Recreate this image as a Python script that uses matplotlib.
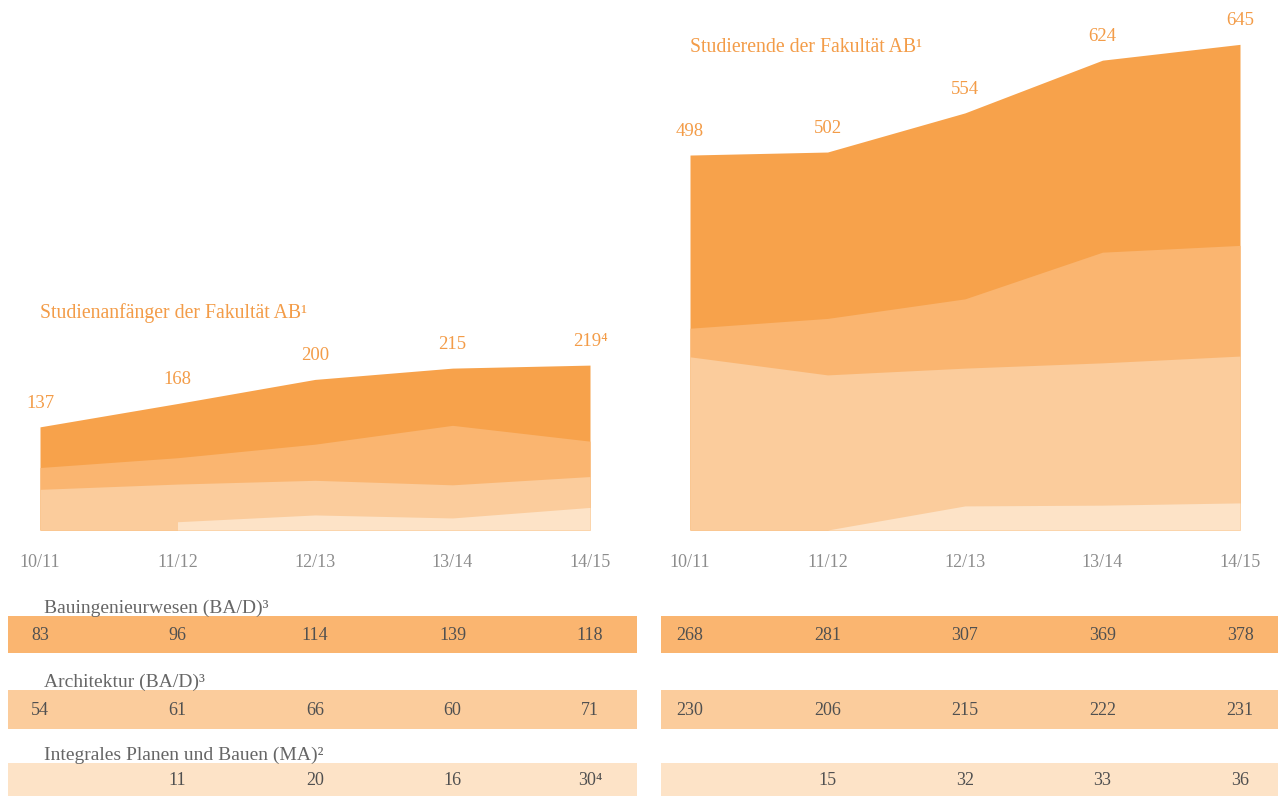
import numpy as np
import matplotlib
matplotlib.use("Agg")
import matplotlib.pyplot as plt
from matplotlib.transforms import blended_transform_factory
from matplotlib.patches import Rectangle

plt.rcParams['font.family'] = ['Liberation Serif', 'DejaVu Serif']

# daten
semester = ['10/11', '11/12', '12/13', '13/14', '14/15']
anf_total = [137, 168, 200, 215, 219]
anf_bau = [83, 96, 114, 139, 118]
anf_arch = [54, 61, 66, 60, 71]
anf_ipb = [None, 11, 20, 16, 30]
anf_total_lbl = ['137', '168', '200', '215', '219⁴']
anf_ipb_lbl = ['', '11', '20', '16', '30⁴']

stud_total = [498, 502, 554, 624, 645]
stud_bau = [268, 281, 307, 369, 378]
stud_arch = [230, 206, 215, 222, 231]
stud_ipb = [None, 15, 32, 33, 36]
stud_ipb_area = [None, 0, 32, 33, 36]   # so wie in der grafik gezeichnet

row_names = ['Bauingenieurwesen (BA/D)³', 'Architektur (BA/D)³', 'Integrales Planen und Bauen (MA)²']

c_dark = '#f7a24b'
c_bau = '#fab570'
c_arch = '#fbcc9c'
c_ipb = '#fde3c7'
c_title = '#f39c48'

W, H = 1278, 796
fig = plt.figure(figsize=(W / 100, H / 100), dpi=100)

def fy(px):
    return 1 - px / H

def make_ax(x0, total, bau, arch, ipb, total_lbl, title, title_y):
    ax = fig.add_axes([x0 / W, fy(530), 550 / W, 512 / H])
    x = np.arange(len(semester))
    f = lambda v: np.array([np.nan if a is None else a for a in v], dtype=float)
    ax.fill_between(x, 0, f(total), color=c_dark, lw=0)
    ax.fill_between(x, 0, f(bau), color=c_bau, lw=0)
    ax.fill_between(x, 0, f(arch), color=c_arch, lw=0)
    ax.fill_between(x, 0, f(ipb), color=c_ipb, lw=0)
    for xi, v, s in zip(x, total, total_lbl):
        ax.annotate(s, (xi, v), xytext=(0, 17), textcoords='offset points',
                    ha='center', va='center', color=c_title, fontsize=13.5)
    ax.set_xlim(0, 4)
    ax.set_ylim(0, 680)
    ax.set_xticks(x)
    ax.set_xticklabels(semester, color='#8c8c8c', fontsize=13)
    ax.tick_params(axis='x', length=0, pad=17)
    ax.set_yticks([])
    for s in ax.spines.values():
        s.set_visible(False)
    ax.patch.set_alpha(0)
    fig.text(x0 / W, fy(title_y), title, color=c_title, fontsize=14.2, va='center')
    return ax

ax1 = make_ax(40, anf_total, anf_bau, anf_arch, anf_ipb, anf_total_lbl,
              'Studienanfänger der Fakultät AB¹', 313)
ax2 = make_ax(690, stud_total, stud_bau, stud_arch, stud_ipb_area,
              [str(v) for v in stud_total], 'Studierende der Fakultät AB¹', 47)

# tabellen unten
rows = [(616, 653, c_bau), (690, 729, c_arch), (763, 796, c_ipb)]
left_vals = [[str(v) for v in anf_bau], [str(v) for v in anf_arch], anf_ipb_lbl]
right_vals = [[str(v) for v in stud_bau], [str(v) for v in stud_arch],
              ['' if v is None else str(v) for v in stud_ipb]]

for i, (top, bot, col) in enumerate(rows):
    for (xa, xb) in [(8, 637), (661, 1278)]:
        fig.patches.append(Rectangle((xa / W, fy(bot)), (xb - xa) / W, (bot - top) / H,
                                     transform=fig.transFigure, color=col, lw=0, zorder=0))
    fig.text(44 / W, fy(top - 8), row_names[i], color='#666666', fontsize=14, va='center')
    yc = fy((top + bot) / 2 + 1)
    for ax, vals in [(ax1, left_vals[i]), (ax2, right_vals[i])]:
        tr = blended_transform_factory(ax.transData, fig.transFigure)
        for xi, s in enumerate(vals):
            fig.text(xi, yc, s, transform=tr, ha='center', va='center',
                     color='#505050', fontsize=13)

fig.savefig('out.png', dpi=100)
